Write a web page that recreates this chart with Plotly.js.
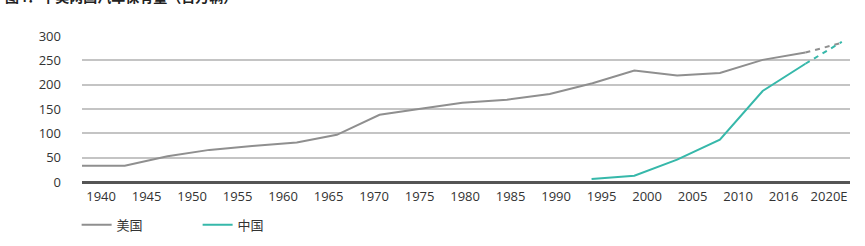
<!DOCTYPE html>
<html>
<head>
<meta charset="utf-8">
<script src="https://cdn.plot.ly/plotly-3.0.1.min.js"></script>
<style>html,body{margin:0;padding:0;background:#fff;}#chart{width:865px;height:246px;}</style>
</head>
<body>
<div id="chart"></div>
<script>
// Tick labels
const tickYears = [1940,1945,1950,1955,1960,1965,1970,1975,1980,1985,1990,1995,2000,2005,2010,2015,2020];
const tickLabels = ["1940","1945","1950","1955","1960","1965","1970","1975","1980","1985","1990","1995","2000","2005","2010","2016","2020E"];

// 美国 (US) vehicle stock, millions
const usYears = [1937.9,1942.6,1947.3,1951.9,1956.6,1961.5,1965.9,1970.6,1975.3,1979.7,1984.6,1989.3,1994.0,1998.6,2003.3,2008.0,2012.7,2017.4];
const usValues = [33.5,33.5,53,66,74,81,97,138,151,163,169,181,203,229,219,224,251,266];
const usForecastYears = [2017.4,2021.4];
const usForecastValues = [266,286];

// 中国 (China) vehicle stock, millions
const cnYears = [1993.9,1998.6,2003.3,2008.0,2012.7,2017.4];
const cnValues = [6,13,46,87,187,243];
const cnForecastYears = [2017.4,2021.4];
const cnForecastValues = [243,288];

const usColor = '#8f8f8f';
const cnColor = '#36b8aa';
const fontFam = '"Open Sans", "Noto Sans CJK SC", sans-serif';

const traces = [
  {x: usYears, y: usValues, name: '美国', type: 'scatter', mode: 'lines',
   line: {color: usColor, width: 2}},
  {x: cnYears, y: cnValues, name: '中国', type: 'scatter', mode: 'lines',
   line: {color: cnColor, width: 2}},
  {x: usForecastYears, y: usForecastValues, type: 'scatter', mode: 'lines', showlegend: false,
   line: {color: usColor, width: 2, dash: '5px,5px'}},
  {x: cnForecastYears, y: cnForecastValues, type: 'scatter', mode: 'lines', showlegend: false,
   line: {color: cnColor, width: 2, dash: '5px,5px'}}
];

const layout = {
  width: 865, height: 246,
  margin: {l: 82, r: 15, t: 36, b: 64, pad: 0, autoexpand: false},
  paper_bgcolor: '#fff', plot_bgcolor: '#fff',
  font: {family: fontFam, size: 13, color: '#333'},
  showlegend: true,
  legend: {orientation: 'h', x: -0.007, xanchor: 'left', y: -0.19, yanchor: 'top',
    font: {family: '"Noto Sans CJK SC", sans-serif', size: 13, color: '#333'},
    entrywidth: 76, entrywidthmode: 'pixels', itemwidth: 30, traceorder: 'normal'},
  xaxis: {type: 'linear', range: [1937.9, 2022.3], tickmode: 'array', tickvals: tickYears,
    ticktext: tickLabels, showgrid: false, zeroline: false, showline: false, ticks: '',
    ticklabelstandoff: 5, tickfont: {size: 13, color: '#333'}, fixedrange: true},
  yaxis: {range: [0, 300], tickmode: 'array', tickvals: [0,50,100,150,200,250,300],
    showgrid: true, gridcolor: '#c4c4c4', gridwidth: 2,
    zeroline: true, zerolinecolor: '#555555', zerolinewidth: 3,
    showline: false, ticks: '', ticklabelstandoff: 20,
    tickfont: {size: 13, color: '#333'}, fixedrange: true},
  annotations: [{
    text: '<b>图4：中美两国汽车保有量（百万辆）</b>',
    xref: 'paper', yref: 'paper', x: -0.103, xanchor: 'left', y: 1.19, yanchor: 'bottom',
    showarrow: false, font: {family: '"Noto Sans CJK SC", sans-serif', size: 14, color: '#222'}
  }]
};

Plotly.newPlot('chart', traces, layout, {displayModeBar: false, staticPlot: true});
</script>
</body>
</html>
